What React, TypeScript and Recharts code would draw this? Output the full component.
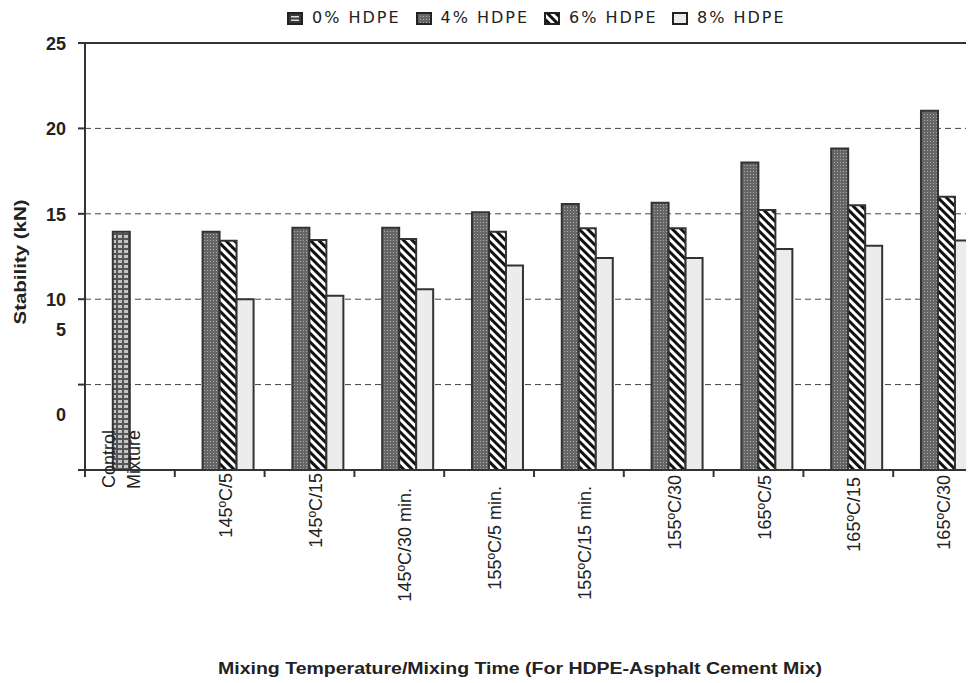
import {
  Bar,
  BarChart,
  CartesianGrid,
  Cell,
  Label,
  Legend,
  ReferenceLine,
  XAxis,
  YAxis,
} from "recharts";

const FONT = "'Liberation Sans', Arial, Helvetica, sans-serif";
const INK = "#333333";

// category labels as they show under the axis (long ones are cut off in the original)
const categories = [
  "Control Mixture",
  "145ºC/5",
  "145ºC/15",
  "145ºC/30 min.",
  "155ºC/5 min.",
  "155ºC/15 min.",
  "155ºC/30",
  "165ºC/5",
  "165ºC/15",
  "165ºC/30",
];

const seriesNames = ["0% HDPE", "4% HDPE", "6% HDPE", "8% HDPE"];

const hdpe0 = [13.95, null, null, null, null, null, null, null, null, null];
const hdpe4 = [null, 13.95, 14.19, 14.19, 15.09, 15.57, 15.65, 18.0, 18.83, 21.04];
const hdpe6 = [null, 13.42, 13.47, 13.52, 13.95, 14.15, 14.15, 15.22, 15.5, 16.0];
const hdpe8 = [null, 10.0, 10.2, 10.58, 11.98, 12.41, 12.41, 12.94, 13.13, 13.43];

const yTicks = [0, 5, 10, 15, 20, 25];

// in the original the control bar sits in the second slot of its group
const data = categories.map((name, i) => ({
  name,
  s1: i === 0 ? null : hdpe0[i],
  s2: i === 0 ? hdpe0[0] : hdpe4[i],
  s3: hdpe6[i],
  s4: hdpe8[i],
}));

const CHART_W = 990;
const CHART_H = 675;
const PLOT_LEFT = 77;
const PLOT_W = 898;
const BAND = PLOT_W / categories.length;

// vertical nudge of each x label's top edge, relative to the axis line
const LABEL_TOP = [-40, 3, 3, 18, 16, 16, 5, 5, 7, 5];

const fills = ["url(#brick)", "url(#dots)", "url(#hatch)", "#ececec"];

function Patterns() {
  return (
    <svg width={0} height={0} style={{ position: "absolute" }}>
      <defs>
        <pattern id="brick" width={6} height={5} patternUnits="userSpaceOnUse">
          <rect width={6} height={5} fill="#c4c4c4" />
          <rect width={6} height={2} fill="#555" />
          <rect x={0} y={0} width={2} height={5} fill="#555" />
        </pattern>
        <pattern id="dots" width={3} height={3} patternUnits="userSpaceOnUse">
          <rect width={3} height={3} fill="#666" />
          <rect x={1} y={1} width={1} height={1} fill="#aaa" />
        </pattern>
        <pattern
          id="hatch"
          width={6}
          height={6}
          patternUnits="userSpaceOnUse"
          patternTransform="rotate(-45)"
        >
          <rect width={6} height={6} fill="#fff" />
          <rect width={3} height={6} fill="#111" />
        </pattern>
      </defs>
    </svg>
  );
}

function YTick({ x, y, payload }: any) {
  // the 5 and 0 labels are printed well above their gridlines in the source
  const shift = payload.value < 10 ? -56 : 0;
  return (
    <text
      x={x - 10}
      y={y + shift + 1}
      textAnchor="end"
      dominantBaseline="central"
      fontFamily={FONT}
      fontWeight="bold"
      fontSize={18}
      fill="#222"
    >
      {payload.value}
    </text>
  );
}

function XTick({ x, y, payload, index }: any) {
  const top = y + LABEL_TOP[index];
  const left = x - BAND / 2;
  const common = {
    textAnchor: "end" as const,
    dominantBaseline: "central" as const,
    fontFamily: FONT,
    fontSize: 18,
    fill: "#222",
  };
  return (
    <g>
      <line x1={left} y1={y} x2={left} y2={y + 7} stroke={INK} strokeWidth={2} />
      {index === 0 ? (
        <>
          <text {...common} transform={`translate(${x - 21}, ${top}) rotate(-90)`}>
            Control
          </text>
          <text {...common} transform={`translate(${x + 4}, ${top}) rotate(-90)`}>
            Mixture
          </text>
        </>
      ) : (
        <text {...common} transform={`translate(${x + 6}, ${top}) rotate(-90)`}>
          {payload.value}
        </text>
      )}
    </g>
  );
}

function LegendIcon({ i }: { i: number }) {
  return (
    <svg width={16} height={13} style={{ display: "block" }}>
      <rect x={1} y={1} width={14} height={11} fill={i === 0 ? "#3a3a3a" : fills[i]} stroke="#222" strokeWidth={2} />
      {i === 0 && (
        // the brick swatch prints as a dark box with light bars
        <>
          <rect x={4} y={4} width={8} height={1.5} fill="#ddd" />
          <rect x={4} y={7.5} width={8} height={1.5} fill="#ddd" />
        </>
      )}
    </svg>
  );
}

function LegendBox() {
  const itemX = [279, 407.5, 536, 664];
  return (
    <div style={{ position: "relative", width: 966, height: 26 }}>
      {seriesNames.map((name, i) => (
        <div
          key={name}
          style={{
            position: "absolute",
            left: itemX[i],
            top: 0,
            display: "flex",
            alignItems: "center",
            gap: 9,
            whiteSpace: "nowrap",
          }}
        >
          <LegendIcon i={i} />
          <span
            style={{
              fontFamily: "'DejaVu Sans', sans-serif",
              fontSize: 16,
              letterSpacing: 2,
              lineHeight: "20px",
              color: "#222",
            }}
          >
            {name}
          </span>
        </div>
      ))}
    </div>
  );
}

export default function App() {
  return (
    <div style={{ width: 966, height: CHART_H, overflow: "hidden", position: "relative" }}>
      <Patterns />
      <BarChart
        width={CHART_W}
        height={CHART_H}
        data={data}
        margin={{ top: 35, right: CHART_W - PLOT_LEFT - PLOT_W, bottom: 0, left: 0 }}
        barCategoryGap="12%"
        barGap={0}
      >
        <CartesianGrid vertical={false} stroke="#444" strokeDasharray="6 4" />
        <Legend
          verticalAlign="middle"
          align="center"
          layout="horizontal"
          wrapperStyle={{ top: 0, left: 0, width: 966 }}
          content={() => <LegendBox />}
        />
        <XAxis
          dataKey="name"
          interval={0}
          height={CHART_H - 462}
          tickLine={false}
          tickSize={0}
          tickMargin={0}
          axisLine={{ stroke: INK, strokeWidth: 2 }}
          tick={<XTick />}
        >
          <Label
            content={() => (
              <text
                x={512}
                y={660}
                textAnchor="middle"
                dominantBaseline="central"
                fontFamily={FONT}
                fontWeight="bold"
                fontSize={16}
                fill="#222"
                textLength={604}
                lengthAdjust="spacingAndGlyphs"
              >
                Mixing Temperature/Mixing Time (For HDPE-Asphalt Cement Mix)
              </text>
            )}
          />
        </XAxis>
        <YAxis
          type="number"
          domain={[0, 25]}
          ticks={yTicks}
          width={PLOT_LEFT}
          tickSize={7}
          axisLine={{ stroke: INK, strokeWidth: 2 }}
          tickLine={{ stroke: INK, strokeWidth: 2 }}
          tick={<YTick />}
        >
          <Label
            content={() => (
              <text
                transform="translate(12.5, 254) rotate(-90)"
                textAnchor="middle"
                dominantBaseline="central"
                fontFamily={FONT}
                fontWeight="bold"
                fontSize={17}
                fill="#222"
                textLength={125}
                lengthAdjust="spacingAndGlyphs"
              >
                Stability (kN)
              </text>
            )}
          />
        </YAxis>
        <ReferenceLine y={25} stroke={INK} strokeWidth={2} />
        <Bar dataKey="s1" name={seriesNames[0]} fill={fills[0]} stroke={INK} strokeWidth={2} isAnimationActive={false} />
        <Bar dataKey="s2" name={seriesNames[1]} fill={fills[1]} stroke={INK} strokeWidth={2} isAnimationActive={false}>
          {data.map((_, i) => (
            <Cell key={i} fill={i === 0 ? fills[0] : fills[1]} />
          ))}
        </Bar>
        <Bar dataKey="s3" name={seriesNames[2]} fill={fills[2]} stroke={INK} strokeWidth={2} isAnimationActive={false} />
        <Bar dataKey="s4" name={seriesNames[3]} fill={fills[3]} stroke={INK} strokeWidth={2} isAnimationActive={false} />
      </BarChart>
    </div>
  );
}
